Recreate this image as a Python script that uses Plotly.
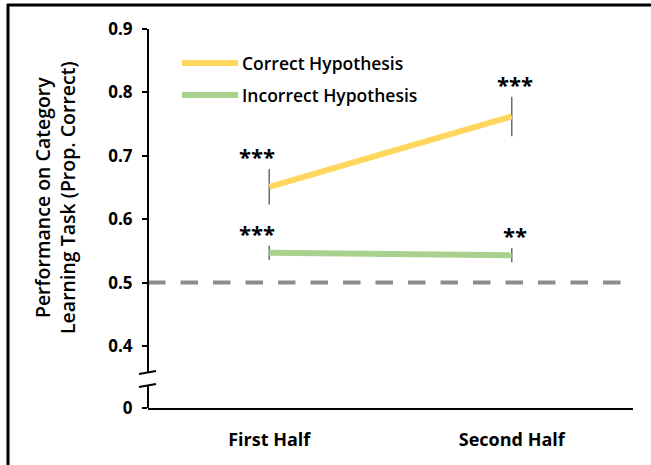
import plotly.graph_objects as go

# ---- data ----
categories = ["First Half", "Second Half"]
correct_vals = [0.651, 0.762]
correct_err = [0.028, 0.031]
incorrect_vals = [0.547, 0.543]
incorrect_err = [0.011, 0.011]
correct_stars = ["***", "***"]
incorrect_stars = ["***", "**"]
chance_level = 0.5
tick_vals_upper = [0.4, 0.5, 0.6, 0.7, 0.8, 0.9]
tick_text_upper = ["0.4", "0.5", "0.6", "0.7", "0.8", "0.9"]

# ---- layout constants ----
W, H = 651, 465
ML, MR, MT, MB = 148, 18, 29, 57
Y_TOP = 0.9
PX_PER_UNIT = 634.0
PLOT_H = H - MT - MB
PLOT_W = W - ML - MR
Y_BOTTOM = Y_TOP - PLOT_H / PX_PER_UNIT   # where the broken axis shows "0"


def px_to_y(py):
    return Y_TOP - (py - MT) / PX_PER_UNIT


def px_to_px(px):
    return (px - ML) / PLOT_W


def py_to_paper(py):
    return (H - MB - py) / PLOT_H


YELLOW = "#FFD75E"
GREEN = "#A9D18E"
ERR = "#6b6b6b"
FONT = "Open Sans"

fig = go.Figure()
for vals, errs, color in [(incorrect_vals, incorrect_err, GREEN),
                          (correct_vals, correct_err, YELLOW)]:
    fig.add_trace(go.Scatter(
        x=categories, y=vals, mode="lines",
        line=dict(color=color, width=6),
        error_y=dict(type="data", array=errs, visible=True,
                     thickness=1.5, width=0, color=ERR),
        showlegend=False, hoverinfo="skip"))

annotations = []
star_xshift = [-12, 3]
for vals, errs, stars in [(correct_vals, correct_err, correct_stars),
                          (incorrect_vals, incorrect_err, incorrect_stars)]:
    for i, cat in enumerate(categories):
        annotations.append(dict(
            x=cat, y=vals[i] + errs[i], xref="x", yref="y",
            text=stars[i], showarrow=False, yanchor="bottom",
            xshift=star_xshift[i], yshift=-4,
            font=dict(family=FONT, size=22, color="black", weight=700)))

# legend (drawn manually)
legend_items = [("Correct Hypothesis", YELLOW, 63), ("Incorrect Hypothesis", GREEN, 95)]
shapes = []
for label, color, py in legend_items:
    shapes.append(dict(type="line", xref="paper", yref="paper",
                       x0=px_to_px(182), x1=px_to_px(238),
                       y0=py_to_paper(py), y1=py_to_paper(py),
                       line=dict(color=color, width=6)))
    annotations.append(dict(x=px_to_px(240), y=py_to_paper(py), xref="paper", yref="paper",
                            text=label, showarrow=False, xanchor="left", yanchor="middle",
                            font=dict(family=FONT, size=17.5, color="black", weight=600)))

# y axis title
annotations.append(dict(x=px_to_px(55), y=py_to_paper(198), xref="paper", yref="paper",
                        text="Performance on Category<br>Learning Task (Prop. Correct)",
                        textangle=-90, showarrow=False, xanchor="center", yanchor="middle",
                        font=dict(family=FONT, size=19.5, color="black", weight=600)))

# chance line
shapes.append(dict(type="line", xref="paper", yref="y", x0=0, x1=1,
                   y0=chance_level, y1=chance_level,
                   line=dict(color="#8c8c8c", width=4, dash="17.5px,15px")))

# broken y axis
shapes.append(dict(type="line", xref="paper", yref="y", x0=0, x1=0,
                   y0=Y_TOP, y1=px_to_y(372.5), line=dict(color="black", width=2)))
shapes.append(dict(type="line", xref="paper", yref="y", x0=0, x1=0,
                   y0=px_to_y(385.5), y1=Y_BOTTOM, line=dict(color="black", width=2)))
for a, b in [(374, 371), (387, 384)]:
    shapes.append(dict(type="line", xref="paper", yref="y",
                       x0=px_to_px(139), x1=px_to_px(156),
                       y0=px_to_y(a), y1=px_to_y(b), line=dict(color="black", width=2)))

# outer frame (left and top edges)
shapes.append(dict(type="line", xref="paper", yref="paper",
                   x0=px_to_px(8), x1=px_to_px(8), y0=py_to_paper(4), y1=py_to_paper(470),
                   line=dict(color="black", width=3)))
shapes.append(dict(type="line", xref="paper", yref="paper",
                   x0=px_to_px(7), x1=px_to_px(660), y0=py_to_paper(5), y1=py_to_paper(5),
                   line=dict(color="black", width=3)))

fig.update_layout(
    width=W, height=H,
    margin=dict(l=ML, r=MR, t=MT, b=MB),
    paper_bgcolor="white", plot_bgcolor="white",
    font=dict(family=FONT, color="black"),
    xaxis=dict(type="category", range=[-0.5, 1.5], showline=True, linecolor="black",
               linewidth=2, ticks="", showgrid=False, zeroline=False,
               tickfont=dict(family=FONT, size=18, color="black", weight=700),
               ticklabelstandoff=14),
    yaxis=dict(range=[Y_BOTTOM, Y_TOP], tickvals=[Y_BOTTOM] + tick_vals_upper,
               ticktext=["0"] + tick_text_upper, ticks="outside", ticklen=5,
               tickwidth=2, tickcolor="black", showline=False, showgrid=False,
               zeroline=False, ticklabelstandoff=6,
               tickfont=dict(family=FONT, size=17, color="black", weight=700)),
    shapes=shapes, annotations=annotations,
)

fig.write_html("out.html")
